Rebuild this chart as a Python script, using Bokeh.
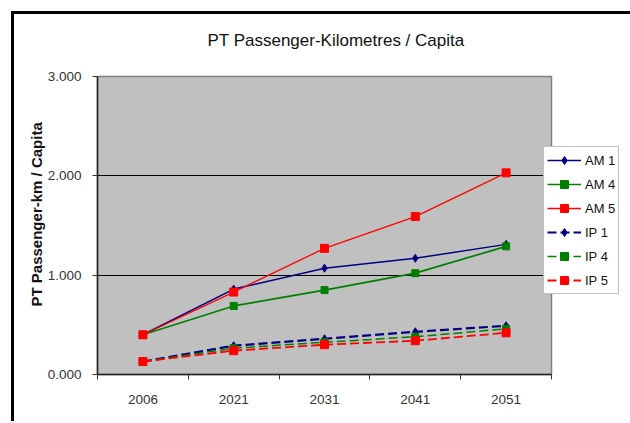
from bokeh.plotting import figure
from bokeh.models import Range1d, FixedTicker, NumeralTickFormatter, Title
from bokeh.embed import file_html
from bokeh.resources import INLINE

# ---- data ----
years = ["2006", "2021", "2031", "2041", "2051"]
am1 = [0.40, 0.86, 1.07, 1.17, 1.31]
am4 = [0.40, 0.69, 0.85, 1.02, 1.29]
am5 = [0.40, 0.83, 1.27, 1.59, 2.03]
ip1 = [0.13, 0.29, 0.36, 0.43, 0.49]
ip4 = [0.13, 0.265, 0.325, 0.38, 0.46]
ip5 = [0.13, 0.24, 0.30, 0.34, 0.42]
y_ticks = [0, 1, 2, 3]

title_text = "PT Passenger-Kilometres / Capita"
y_label_text = "PT Passenger-km  / Capita"

FONT = "Liberation Sans"
xs = list(range(len(years)))

p = figure(frame_width=454, frame_height=298, output_backend="svg", toolbar_location=None,
           x_range=Range1d(-0.5, len(years) - 0.5), y_range=Range1d(0, 3),
           min_border_left=97, min_border_right=77, min_border_top=76,
           min_border_bottom=47)

p.styles = {
    "background": ("linear-gradient(#000,#000) 11px 11px / 3px 100% no-repeat, "
                   "linear-gradient(#000,#000) 11px 11px / 100% 3px no-repeat, #ffffff"),
}
p.background_fill_color = "#C0C0C0"
p.border_fill_alpha = 0
p.outline_line_color = "#808080"
p.outline_line_width = 1.5

# title
p.title.text = title_text
p.title.align = "left"
p.title.offset = 110
p.title.standoff = 54
p.title.text_font = FONT
p.title.text_font_size = "17px"
p.title.text_font_style = "normal"
p.title.text_color = "#111111"

# x axis: labels at category centres, ticks at boundaries
p.xaxis.ticker = FixedTicker(ticks=xs, minor_ticks=[i - 0.5 for i in range(len(years) + 1)])
p.xaxis.major_label_overrides = {i: y for i, y in enumerate(years)}
p.xaxis.major_tick_in = 0
p.xaxis.major_tick_out = 0
p.xaxis.minor_tick_in = 0
p.xaxis.minor_tick_out = 5
p.xaxis.minor_tick_line_color = "#333333"
p.xaxis.major_label_standoff = 15

p.yaxis.ticker = FixedTicker(ticks=y_ticks)
p.yaxis.formatter = NumeralTickFormatter(format="0.000")
p.yaxis.major_tick_in = 0
p.yaxis.major_tick_out = 5
p.yaxis.minor_tick_out = 0
p.yaxis.minor_tick_in = 0
p.yaxis.major_label_standoff = 11

for ax in (p.xaxis, p.yaxis):
    ax.axis_line_color = "#222222"
    ax.axis_line_width = 1.5
    ax.major_tick_line_color = "#333333"
    ax.major_label_text_font = FONT
    ax.major_label_text_font_size = "13.5px"
    ax.major_label_text_color = "#333333"

p.xgrid.visible = False
p.ygrid.ticker = FixedTicker(ticks=y_ticks)
p.ygrid.grid_line_color = "black"
p.ygrid.grid_line_width = 1

series = [
    ("AM 1", am1, "#000080", "solid", 1.5, "diamond", 8),
    ("AM 4", am4, "#008000", "solid", 1.7, "square", 7),
    ("AM 5", am5, "#FF0000", "solid", 1.3, "square", 8),
    ("IP 1", ip1, "#000080", "9 4", 2.2, "diamond", 8),
    ("IP 4", ip4, "#008000", "9 4", 1.5, "square", 7),
    ("IP 5", ip5, "#FF0000", "9 4", 1.8, "square", 8),
]
for name, vals, col, dash, lw, mk, sz in series:
    p.line(xs, vals, line_color=col, line_width=lw, line_dash=dash, legend_label=name)
    p.scatter(xs, vals, marker=mk, size=sz, fill_color=col, line_color=col,
              legend_label=name)

lg = p.legend[0]
p.center.remove(lg)
p.add_layout(lg, "right")
lg.location = (-8, 80)
lg.background_fill_color = "white"
lg.background_fill_alpha = 1
lg.border_line_color = "#808080"
lg.border_line_width = 1
lg.padding = 3
lg.margin = 0
lg.spacing = 4
lg.glyph_width = 34
lg.glyph_height = 20
lg.label_height = 20
lg.label_standoff = 4
lg.label_text_font = FONT
lg.label_text_font_size = "13px"
lg.label_text_color = "#111111"

# y axis title placed as a side title on the left
p.add_layout(Title(text=y_label_text, align="left", offset=68, standoff=0,
                   text_font=FONT, text_font_size="15px", text_font_style="bold",
                   text_color="#111111"), "left")

open("out.html", "w").write(file_html(p, INLINE))
